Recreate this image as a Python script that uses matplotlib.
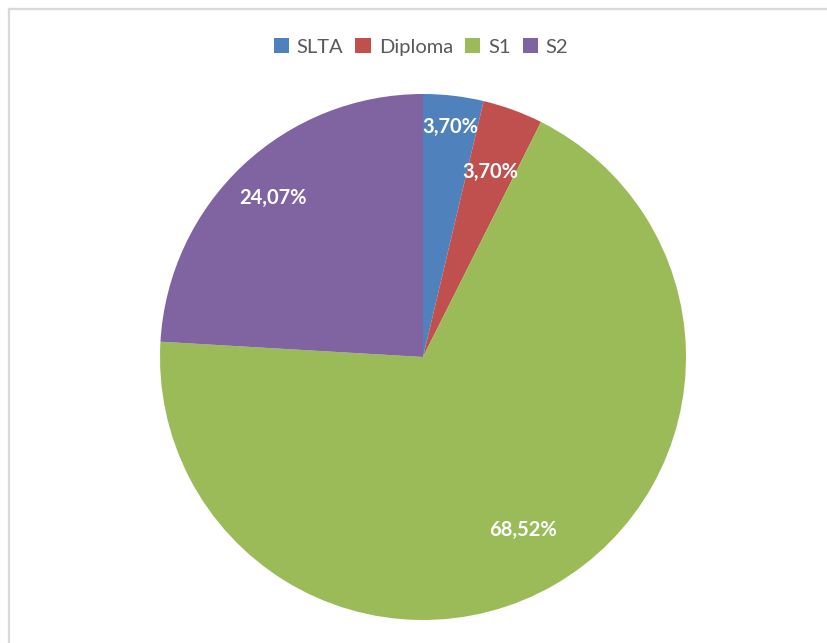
import numpy as np
import matplotlib.pyplot as plt
from matplotlib.patches import Patch
from matplotlib.lines import Line2D

# respondents per education level (54 in total)
categories = ["SLTA", "Diploma", "S1", "S2"]
counts = [2, 2, 37, 13]
colors = ["#4F81BD", "#C0504D", "#9BBB59", "#8064A2"]
# radial position of each percentage label (fraction of radius)
label_dist = [0.88, 0.75, 0.76, 0.83]

plt.rcParams['font.family'] = ['Lato', 'DejaVu Sans']

W, H = 827, 643
fig = plt.figure(figsize=(W / 100, H / 100), dpi=100)

# light grey chart frame (left and top edges visible)
fig.add_artist(Line2D([8.5 / W, 8.5 / W], [0, 1 - 9 / H], transform=fig.transFigure,
                      color="#d9d9d9", lw=1.6))
fig.add_artist(Line2D([8.5 / W, 1], [1 - 9 / H, 1 - 9 / H], transform=fig.transFigure,
                      color="#d9d9d9", lw=1.6))

cx, cy, r = 423, 643 - 357, 263
ax = fig.add_axes([(cx - r) / W, (cy - r) / H, 2 * r / W, 2 * r / H])

wedges, texts, autotexts = ax.pie(
    counts, colors=colors, startangle=90, counterclock=False, radius=1,
    autopct=lambda p: f"{p:.2f}%".replace(".", ","), pctdistance=0.8,
    wedgeprops=dict(linewidth=0),
    textprops=dict(color="white", fontsize=14.5, fontweight="bold"))

for w, t, d in zip(wedges, autotexts, label_dist):
    ang = np.deg2rad((w.theta1 + w.theta2) / 2)
    t.set_position((d * np.cos(ang), d * np.sin(ang)))

ax.set_xlim(-1, 1)
ax.set_ylim(-1, 1)
ax.set_aspect("equal")
ax.axis("off")

handles = [Patch(facecolor=c, edgecolor="none") for c in colors]
fig.legend(handles, categories, loc="center", bbox_to_anchor=(421 / W, 1 - 47 / H),
           ncol=4, frameon=False, fontsize=14.5, labelcolor="#595959",
           handlelength=0.75, handleheight=0.75, handletextpad=0.4,
           columnspacing=0.6)

fig.savefig("out.png", dpi=100)
